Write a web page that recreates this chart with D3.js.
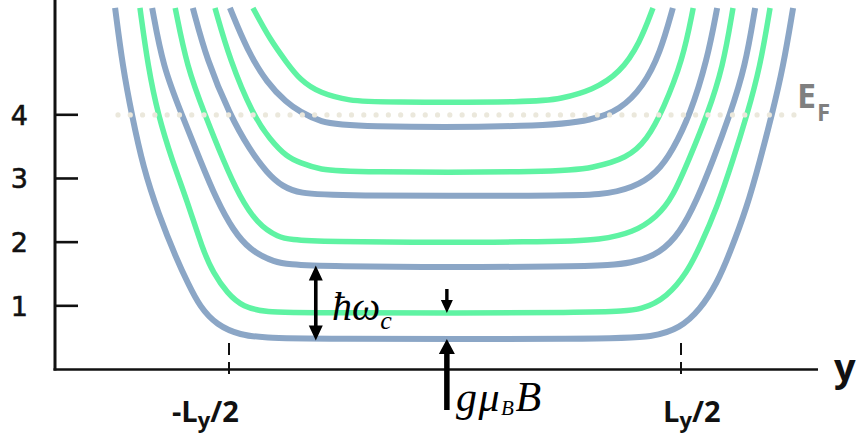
<!DOCTYPE html>
<html>
<head>
<meta charset="utf-8">
<script src="https://cdn.jsdelivr.net/npm/d3@7/dist/d3.min.js"></script>
<style>
  html, body { margin: 0; padding: 0; background: #fff; }
  svg { display: block; }
</style>
</head>
<body>
<svg id="chart" width="856" height="436"></svg>
<script>
// Energy levels across a strip of width Ly: position in units where Ly = 100,
// energy in the units of the vertical axis.
const energyTicks = [1, 2, 3, 4];
const fermiEnergy = 3.99;
const edgeTicks = [-50, 50];
const edgeLabels = ["-L", "L"];

// flat (bulk) energy of each spin-split Landau level, bottom to top
const levelEnergy = [0.47, 0.88, 1.60, 1.99, 2.72, 3.09, 3.80, 4.19];
const levelSpin = ["down", "up", "down", "up", "down", "up", "down", "up"];

// each level bends upward near the edges of the strip: [position, energy]
const level1 = [[-75.2,5.67],[-73.5,4.74],[-71.5,3.99],[-69.0,3.17],[-65.7,2.45],[-61.5,1.71],[-59.1,1.35],[-56.4,0.97],[-52.7,0.69],[-47.6,0.53],[-41.6,0.49],[-34.3,0.47],
                [34.3,0.47],[43.8,0.50],[49.8,0.64],[54.2,0.93],[58.0,1.35],[60.8,1.82],[64.6,2.54],[67.5,3.28],[70.1,3.99],[72.6,4.74],[74.8,5.67]];
const level2 = [[-69.7,5.67],[-67.9,4.74],[-65.7,3.99],[-62.6,3.28],[-59.3,2.65],[-55.8,1.87],[-53.5,1.51],[-50.4,1.19],[-46.9,0.97],[-41.6,0.89],[-34.3,0.88],
                [34.3,0.88],[41.6,0.93],[46.9,1.13],[51.3,1.51],[54.2,1.92],[58.0,2.54],[61.5,3.28],[64.6,3.99],[67.5,4.74],[69.7,5.67]];
const level3 = [[-67.0,5.67],[-64.6,4.74],[-60.4,3.99],[-56.4,3.28],[-52.7,2.65],[-49.1,2.18],[-45.4,1.87],[-40.3,1.68],[-34.3,1.60],
                [30.5,1.60],[39.4,1.66],[45.4,1.82],[49.8,2.14],[53.5,2.65],[57.1,3.28],[60.8,3.99],[64.2,4.74],[66.4,5.67]];
const level4 = [[-61.9,5.67],[-59.3,4.74],[-55.3,3.99],[-51.3,3.28],[-47.6,2.70],[-43.8,2.29],[-39.4,2.07],[-34.3,1.99],
                [23.2,1.99],[32.1,2.03],[39.4,2.14],[44.7,2.39],[48.2,2.70],[52.0,3.33],[55.8,3.99],[59.3,4.74],[61.5,5.67]];
const level5 = [[-58.0,5.67],[-54.9,4.85],[-49.8,3.99],[-45.4,3.44],[-41.6,3.08],[-38.1,2.86],[-34.3,2.76],[-27.0,2.72],
                [23.2,2.72],[32.1,2.73],[39.4,2.84],[44.7,3.08],[48.2,3.44],[52.0,3.99],[55.8,4.85],[58.0,5.67]];
const level6 = [[-53.1,5.67],[-49.8,4.85],[-44.7,3.99],[-40.9,3.60],[-37.2,3.33],[-34.3,3.24],[-29.9,3.13],[-23.2,3.09],
                [23.2,3.09],[30.5,3.16],[38.1,3.31],[42.5,3.60],[46.0,4.07],[50.4,4.85],[52.7,5.67]];
const level7 = [[-49.8,5.67],[-46.0,5.01],[-41.6,4.49],[-37.2,4.18],[-34.3,4.04],[-29.9,3.88],[-23.2,3.80],
                [20.0,3.80],[30.5,3.91],[36.5,4.07],[41.6,4.43],[45.4,4.96],[48.2,5.67]];
const level8 = [[-44.7,5.67],[-40.9,5.17],[-37.2,4.81],[-34.3,4.54],[-29.9,4.33],[-23.2,4.21],[-17.0,4.19],
                [18.0,4.19],[23.2,4.24],[30.5,4.38],[36.5,4.65],[40.9,5.12],[43.8,5.67]];
const levelCurves = [level1, level2, level3, level4, level5, level6, level7, level8];

// where the arrows stand, as strip positions
const cyclotronArrowAt = -30.8;
const zeemanArrowAt = -1.8;

const svg = d3.select("#chart");

const x = d3.scaleLinear().domain([-50, 50]).range([229, 681]);
const y = d3.scaleLinear().domain([0, 4]).range([369, 114.3]);

const spinColor = { down: "#8ba6c6", up: "#5ff3a3" };
const spinWidth = { down: 6, up: 5.5 };

const defs = svg.append("defs");
defs.append("filter").attr("id", "soft")
  .append("feGaussianBlur").attr("stdDeviation", 0.5);

// Landau level curves
const line = d3.line().x(d => x(d[0])).y(d => y(d[1])).curve(d3.curveBasis);
svg.append("g")
  .selectAll("path")
  .data(levelCurves)
  .join("path")
  .attr("d", line)
  .attr("fill", "none")
  .attr("stroke", (d, i) => spinColor[levelSpin[i]])
  .attr("stroke-width", (d, i) => spinWidth[levelSpin[i]])
  .attr("stroke-linejoin", "round")
  .attr("filter", "url(#soft)");

// Fermi energy, dotted
svg.append("line")
  .attr("x1", 118).attr("x2", 806)
  .attr("y1", y(fermiEnergy)).attr("y2", y(fermiEnergy))
  .attr("stroke", "#ebe8dc")
  .attr("stroke-width", 5.2)
  .attr("stroke-linecap", "round")
  .attr("stroke-dasharray", "0 12.29");

svg.append("text")
  .attr("x", 797).attr("y", 108)
  .attr("font-family", "'Open Sans', sans-serif")
  .attr("font-weight", 700)
  .attr("font-size", 34)
  .attr("fill", "#7f7f7f")
  .text("E")
  .append("tspan")
  .attr("dx", 1).attr("dy", 13)
  .attr("font-size", 24)
  .text("F");

// energy axis
const yAxis = d3.axisLeft(y).tickValues(energyTicks).tickSize(-23).tickPadding(27).tickFormat(d3.format("d"));
const gy = svg.append("g").attr("transform", "translate(55,0)").call(yAxis);
gy.select(".domain").remove();
gy.selectAll(".tick line").attr("stroke", "#111").attr("stroke-width", 2.6);
gy.selectAll(".tick text")
  .attr("font-family", "'DejaVu Sans', sans-serif")
  .attr("font-size", 27)
  .attr("fill", "#111")
  .attr("stroke", "#111")
  .attr("stroke-width", 0.6)
  .attr("dy", "0.36em");

// axis lines
svg.append("line").attr("x1", 55).attr("x2", 55).attr("y1", 0).attr("y2", 370.5)
  .attr("stroke", "#111").attr("stroke-width", 3);
svg.append("line").attr("x1", 53.5).attr("x2", 818).attr("y1", 369.5).attr("y2", 369.5)
  .attr("stroke", "#111").attr("stroke-width", 2.6);

// strip edges
svg.append("g").selectAll("line")
  .data(edgeTicks)
  .join("line")
  .attr("x1", d => x(d)).attr("x2", d => x(d))
  .attr("y1", 343).attr("y2", 376)
  .attr("stroke", "#111").attr("stroke-width", 2)
  .attr("stroke-dasharray", "12 7");

const edgeText = svg.append("g").selectAll("text")
  .data(edgeTicks)
  .join("text")
  .attr("x", (d, i) => x(d) + (i === 0 ? -57 : -18))
  .attr("y", 422)
  .attr("font-family", "'Open Sans', sans-serif")
  .attr("font-weight", 700)
  .attr("font-size", 29)
  .attr("fill", "#111");
edgeText.append("tspan").text((d, i) => edgeLabels[i]);
edgeText.append("tspan").attr("dy", 6).attr("font-size", 22).text("y");
edgeText.append("tspan").attr("dy", -6).text("/2");

svg.append("text")
  .attr("x", 834).attr("y", 381)
  .attr("font-family", "'Open Sans', sans-serif")
  .attr("font-weight", 700)
  .attr("font-size", 38)
  .attr("fill", "#111")
  .text("y");

// arrows
function arrow(px, yTail, yTip, headLen, headW, shaftW) {
  const dir = yTip > yTail ? 1 : -1;
  const base = yTip - dir * headLen;
  const p = d3.path();
  p.moveTo(px - shaftW / 2, yTail);
  p.lineTo(px - shaftW / 2, base);
  p.lineTo(px - headW / 2, base);
  p.lineTo(px, yTip);
  p.lineTo(px + headW / 2, base);
  p.lineTo(px + shaftW / 2, base);
  p.lineTo(px + shaftW / 2, yTail);
  p.closePath();
  svg.append("path").attr("d", p.toString()).attr("fill", "#000");
}

const cx = x(cyclotronArrowAt);
const cMid = (y(levelEnergy[0]) + y(levelEnergy[2])) / 2;
arrow(cx, cMid, y(levelEnergy[2]) - 1.5, 15, 14, 3.6);
arrow(cx, cMid, y(levelEnergy[0]) + 1.5, 15, 14, 3.6);

const zx = x(zeemanArrowAt);
arrow(zx, y(levelEnergy[1]) - 24, y(levelEnergy[1]), 13, 12, 3.4);
arrow(zx, 410, y(levelEnergy[0]), 15, 16, 5.5);

const serif = "'Liberation Serif', 'DejaVu Serif', serif";
svg.append("text")
  .attr("x", 332).attr("y", 320)
  .attr("font-family", serif)
  .attr("font-style", "italic")
  .attr("font-size", 40)
  .attr("fill", "#000")
  .text("ħω")
  .append("tspan").attr("dy", 9).attr("font-size", 26).text("c");

const gt = svg.append("text")
  .attr("x", 456).attr("y", 411)
  .attr("font-family", serif)
  .attr("font-style", "italic")
  .attr("font-size", 42)
  .attr("letter-spacing", 1.5)
  .attr("fill", "#000");
gt.append("tspan").text("gμ");
gt.append("tspan").attr("dy", 4).attr("font-size", 21).text("B");
gt.append("tspan").attr("dy", -4).text("B");
</script>
</body>
</html>
